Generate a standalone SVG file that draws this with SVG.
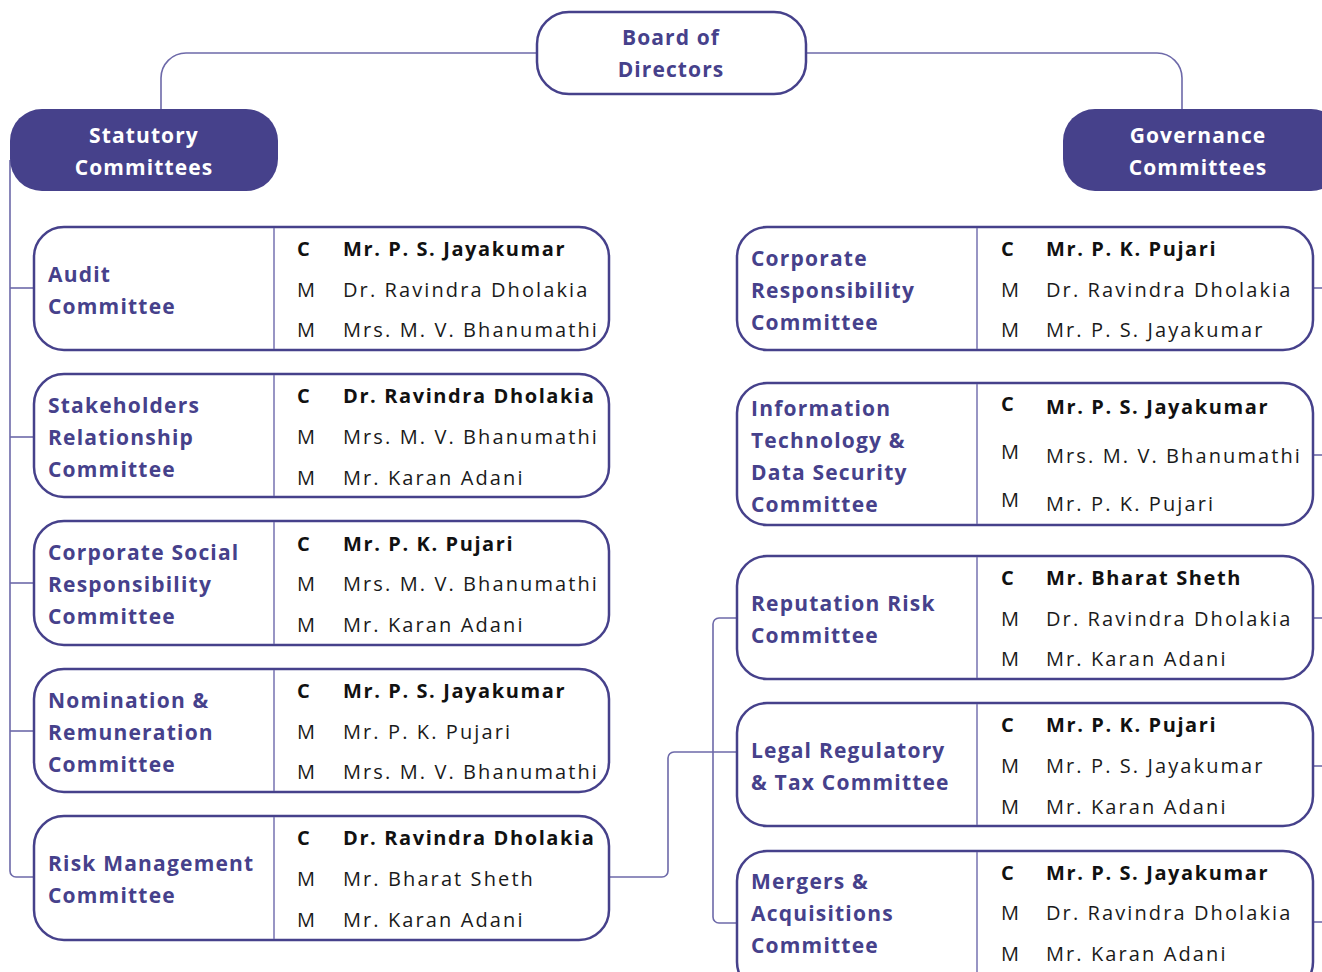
<svg xmlns="http://www.w3.org/2000/svg" width="1322" height="972" viewBox="0 0 1322 972">
  <style>
    .conn { fill: none; stroke: #6d69a9; stroke-width: 1.6; }
    .box { fill: #ffffff; stroke: #46418b; stroke-width: 2.5; }
    .head { fill: #46418b; }
    .div { stroke: #7672b0; stroke-width: 1.5; }
    .nm { font-family: "Open Sans", "Liberation Sans", sans-serif; font-weight: 700; font-size: 21px; fill: #46418b; letter-spacing: 1.2px; }
    .ht { font-family: "Open Sans", "Liberation Sans", sans-serif; font-weight: 700; font-size: 21px; fill: #ffffff; letter-spacing: 1.1px; text-anchor: middle; }
    .bt { font-family: "Open Sans", "Liberation Sans", sans-serif; font-weight: 700; font-size: 21px; fill: #46418b; letter-spacing: 1.1px; text-anchor: middle; }
    .c { font-family: "Open Sans", "Liberation Sans", sans-serif; font-weight: 700; font-size: 20px; fill: #111111; letter-spacing: 1.6px; }
    .m { font-family: "Open Sans", "Liberation Sans", sans-serif; font-weight: 400; font-size: 20px; fill: #1a1a1a; letter-spacing: 2.1px; }
  </style>

  <!-- connectors -->
  <g id="connectors">
    <path class="conn" d="M537,53 H186 A25,25 0 0 0 161,78 V109"/>
    <path class="conn" d="M806,53 H1157 A25,25 0 0 1 1182,78 V109"/>
    <path class="conn" d="M10,160 V871 A6,6 0 0 0 16,877 H34"/>
    <path class="conn" d="M10,288 H34"/>
    <path class="conn" d="M10,437 H34"/>
    <path class="conn" d="M10,583 H34"/>
    <path class="conn" d="M10,731 H34"/>
    <path class="conn" d="M609,877 H662 A6,6 0 0 0 668,871 V758 A6,6 0 0 1 674,752 H737"/>
    <path class="conn" d="M737,618 H719 A6,6 0 0 0 713,624 V917 A6,6 0 0 0 719,923 H737"/>
    <path class="conn" d="M1313,288 H1322"/>
    <path class="conn" d="M1313,455 H1322"/>
    <path class="conn" d="M1313,618 H1322"/>
    <path class="conn" d="M1313,766 H1322"/>
    <path class="conn" d="M1313,922 H1322"/>
  </g>

  <!-- board -->
  <g id="board">
    <rect class="box" x="537" y="12" width="269" height="82" rx="32"/>
    <text class="bt" x="671" y="45">Board of</text>
    <text class="bt" x="671" y="77">Directors</text>
  </g>

  <!-- group headers -->
  <g id="statutory">
    <rect class="head" x="10" y="109" width="268" height="82" rx="32"/>
    <text class="ht" x="144" y="143">Statutory</text>
    <text class="ht" x="144" y="175">Committees</text>
  </g>
  <g id="governance">
    <rect class="head" x="1063" y="109" width="280" height="82" rx="32"/>
    <text class="ht" x="1198" y="143">Governance</text>
    <text class="ht" x="1198" y="175">Committees</text>
  </g>

  <!-- statutory committees -->
  <g id="audit">
    <rect class="box" x="34" y="227" width="575" height="123" rx="30"/>
    <line class="div" x1="274" y1="228" x2="274" y2="349"/>
    <text class="nm" x="48" y="282">Audit</text>
    <text class="nm" x="48" y="314">Committee</text>
    <text class="c" x="297" y="256">C</text><text class="c" x="343" y="256">Mr. P. S. Jayakumar</text>
    <text class="m" x="297" y="297">M</text><text class="m" x="343" y="297">Dr. Ravindra Dholakia</text>
    <text class="m" x="297" y="337">M</text><text class="m" x="343" y="337">Mrs. M. V. Bhanumathi</text>
  </g>
  <g id="stakeholders">
    <rect class="box" x="34" y="374" width="575" height="123" rx="30"/>
    <line class="div" x1="274" y1="375" x2="274" y2="496"/>
    <text class="nm" x="48" y="413">Stakeholders</text>
    <text class="nm" x="48" y="445">Relationship</text>
    <text class="nm" x="48" y="477">Committee</text>
    <text class="c" x="297" y="403">C</text><text class="c" x="343" y="403">Dr. Ravindra Dholakia</text>
    <text class="m" x="297" y="444">M</text><text class="m" x="343" y="444">Mrs. M. V. Bhanumathi</text>
    <text class="m" x="297" y="485">M</text><text class="m" x="343" y="485">Mr. Karan Adani</text>
  </g>
  <g id="csr">
    <rect class="box" x="34" y="521" width="575" height="124" rx="30"/>
    <line class="div" x1="274" y1="522" x2="274" y2="644"/>
    <text class="nm" x="48" y="560">Corporate Social</text>
    <text class="nm" x="48" y="592">Responsibility</text>
    <text class="nm" x="48" y="624">Committee</text>
    <text class="c" x="297" y="551">C</text><text class="c" x="343" y="551">Mr. P. K. Pujari</text>
    <text class="m" x="297" y="591">M</text><text class="m" x="343" y="591">Mrs. M. V. Bhanumathi</text>
    <text class="m" x="297" y="632">M</text><text class="m" x="343" y="632">Mr. Karan Adani</text>
  </g>
  <g id="nomination">
    <rect class="box" x="34" y="669" width="575" height="123" rx="30"/>
    <line class="div" x1="274" y1="670" x2="274" y2="791"/>
    <text class="nm" x="48" y="708">Nomination &amp;</text>
    <text class="nm" x="48" y="740">Remuneration</text>
    <text class="nm" x="48" y="772">Committee</text>
    <text class="c" x="297" y="698">C</text><text class="c" x="343" y="698">Mr. P. S. Jayakumar</text>
    <text class="m" x="297" y="739">M</text><text class="m" x="343" y="739">Mr. P. K. Pujari</text>
    <text class="m" x="297" y="779">M</text><text class="m" x="343" y="779">Mrs. M. V. Bhanumathi</text>
  </g>
  <g id="risk">
    <rect class="box" x="34" y="816" width="575" height="124" rx="30"/>
    <line class="div" x1="274" y1="817" x2="274" y2="939"/>
    <text class="nm" x="48" y="871">Risk Management</text>
    <text class="nm" x="48" y="903">Committee</text>
    <text class="c" x="297" y="845">C</text><text class="c" x="343" y="845">Dr. Ravindra Dholakia</text>
    <text class="m" x="297" y="886">M</text><text class="m" x="343" y="886">Mr. Bharat Sheth</text>
    <text class="m" x="297" y="927">M</text><text class="m" x="343" y="927">Mr. Karan Adani</text>
  </g>

  <!-- governance committees -->
  <g id="corporate-responsibility">
    <rect class="box" x="737" y="227" width="576" height="123" rx="30"/>
    <line class="div" x1="977" y1="228" x2="977" y2="349"/>
    <text class="nm" x="751" y="266">Corporate</text>
    <text class="nm" x="751" y="298">Responsibility</text>
    <text class="nm" x="751" y="330">Committee</text>
    <text class="c" x="1001" y="256">C</text><text class="c" x="1046" y="256">Mr. P. K. Pujari</text>
    <text class="m" x="1001" y="297">M</text><text class="m" x="1046" y="297">Dr. Ravindra Dholakia</text>
    <text class="m" x="1001" y="337">M</text><text class="m" x="1046" y="337">Mr. P. S. Jayakumar</text>
  </g>
  <g id="it-data-security">
    <rect class="box" x="737" y="383" width="576" height="142" rx="30"/>
    <line class="div" x1="977" y1="384" x2="977" y2="524"/>
    <text class="nm" x="751" y="416">Information</text>
    <text class="nm" x="751" y="448">Technology &amp;</text>
    <text class="nm" x="751" y="480">Data Security</text>
    <text class="nm" x="751" y="512">Committee</text>
    <text class="c" x="1001" y="411">C</text><text class="c" x="1046" y="414">Mr. P. S. Jayakumar</text>
    <text class="m" x="1001" y="459">M</text><text class="m" x="1046" y="463">Mrs. M. V. Bhanumathi</text>
    <text class="m" x="1001" y="507">M</text><text class="m" x="1046" y="511">Mr. P. K. Pujari</text>
  </g>
  <g id="reputation-risk">
    <rect class="box" x="737" y="556" width="576" height="123" rx="30"/>
    <line class="div" x1="977" y1="557" x2="977" y2="678"/>
    <text class="nm" x="751" y="611">Reputation Risk</text>
    <text class="nm" x="751" y="643">Committee</text>
    <text class="c" x="1001" y="585">C</text><text class="c" x="1046" y="585">Mr. Bharat Sheth</text>
    <text class="m" x="1001" y="626">M</text><text class="m" x="1046" y="626">Dr. Ravindra Dholakia</text>
    <text class="m" x="1001" y="666">M</text><text class="m" x="1046" y="666">Mr. Karan Adani</text>
  </g>
  <g id="legal-regulatory-tax">
    <rect class="box" x="737" y="703" width="576" height="123" rx="30"/>
    <line class="div" x1="977" y1="704" x2="977" y2="825"/>
    <text class="nm" x="751" y="758">Legal Regulatory</text>
    <text class="nm" x="751" y="790">&amp; Tax Committee</text>
    <text class="c" x="1001" y="732">C</text><text class="c" x="1046" y="732">Mr. P. K. Pujari</text>
    <text class="m" x="1001" y="773">M</text><text class="m" x="1046" y="773">Mr. P. S. Jayakumar</text>
    <text class="m" x="1001" y="814">M</text><text class="m" x="1046" y="814">Mr. Karan Adani</text>
  </g>
  <g id="mergers-acquisitions">
    <rect class="box" x="737" y="851" width="576" height="141" rx="30"/>
    <line class="div" x1="977" y1="852" x2="977" y2="991"/>
    <text class="nm" x="751" y="889">Mergers &amp;</text>
    <text class="nm" x="751" y="921">Acquisitions</text>
    <text class="nm" x="751" y="953">Committee</text>
    <text class="c" x="1001" y="880">C</text><text class="c" x="1046" y="880">Mr. P. S. Jayakumar</text>
    <text class="m" x="1001" y="920">M</text><text class="m" x="1046" y="920">Dr. Ravindra Dholakia</text>
    <text class="m" x="1001" y="961">M</text><text class="m" x="1046" y="961">Mr. Karan Adani</text>
  </g>
</svg>
